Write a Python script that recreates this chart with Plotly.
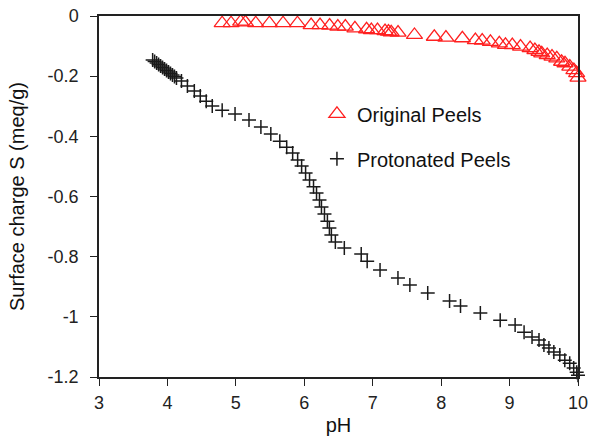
import plotly.graph_objects as go

# Original peels: pH vs surface charge (meq/g)
orig_ph = [4.80, 4.93, 5.07, 5.14, 5.29, 5.49, 5.69, 5.90, 6.10, 6.23, 6.37, 6.49,
           6.60, 6.74, 6.91, 6.98, 7.07, 7.18, 7.23, 7.27, 7.37, 7.61, 7.90, 8.07,
           8.31, 8.50, 8.60, 8.72, 8.85, 8.94, 9.04, 9.16, 9.30, 9.37, 9.43, 9.47,
           9.55, 9.62, 9.69, 9.76, 9.81, 9.88, 9.94, 9.98, 10.00]
orig_s = [-0.024, -0.024, -0.019, -0.021, -0.024, -0.024, -0.024, -0.024, -0.030,
          -0.030, -0.032, -0.035, -0.035, -0.041, -0.044, -0.047, -0.047, -0.050,
          -0.052, -0.054, -0.055, -0.063, -0.069, -0.072, -0.074, -0.080, -0.082,
          -0.086, -0.091, -0.096, -0.097, -0.102, -0.107, -0.113, -0.119, -0.124,
          -0.130, -0.135, -0.141, -0.152, -0.157, -0.168, -0.180, -0.190, -0.205]

# Protonated peels: pH vs surface charge (meq/g)
prot_ph = [3.784, 3.813, 3.842, 3.871, 3.900, 3.929, 3.958, 3.987, 4.016, 4.045,
           4.074, 4.103, 4.132, 4.205, 4.292, 4.393, 4.480, 4.567, 4.655, 4.800,
           4.988, 5.192, 5.366, 5.511, 5.642, 5.743, 5.830, 5.903, 5.961, 6.019,
           6.077, 6.135, 6.179, 6.222, 6.251, 6.295, 6.338, 6.367, 6.396, 6.454,
           6.585, 6.832, 6.919, 7.107, 7.369, 7.543, 7.804, 8.123, 8.283, 8.573,
           8.863, 9.081, 9.212, 9.328, 9.430, 9.502, 9.575, 9.647, 9.734, 9.807,
           9.879, 9.937, 9.981, 10.00]
prot_s = [-0.146, -0.151, -0.156, -0.161, -0.166, -0.171, -0.176, -0.181, -0.186,
          -0.191, -0.196, -0.201, -0.206, -0.216, -0.233, -0.249, -0.266, -0.283,
          -0.299, -0.313, -0.326, -0.346, -0.369, -0.392, -0.416, -0.436, -0.455,
          -0.479, -0.499, -0.522, -0.545, -0.568, -0.588, -0.612, -0.635, -0.658,
          -0.682, -0.705, -0.728, -0.751, -0.771, -0.791, -0.815, -0.844, -0.871,
          -0.894, -0.921, -0.947, -0.964, -0.987, -1.011, -1.027, -1.051, -1.067,
          -1.077, -1.094, -1.104, -1.117, -1.127, -1.144, -1.154, -1.170, -1.184,
          -1.194]

x_ticks = [3, 4, 5, 6, 7, 8, 9, 10]
y_ticks = [0, -0.2, -0.4, -0.6, -0.8, -1.0, -1.2]
y_tick_labels = ["0", "-0.2", "-0.4", "-0.6", "-0.8", "-1", "-1.2"]

FONT = "Arial, Liberation Sans, sans-serif"

fig = go.Figure()
fig.add_trace(go.Scatter(
    x=orig_ph, y=orig_s, mode="markers", name="Original Peels",
    legendgroup="a",
    marker=dict(symbol="triangle-up-open", size=14, color="#ff2020",
                line=dict(width=1.3, color="#ff2020")),
    cliponaxis=False,
))
fig.add_trace(go.Scatter(
    x=prot_ph, y=prot_s, mode="markers", name="Protonated Peels",
    legendgroup="b",
    marker=dict(symbol="cross-thin-open", size=10, color="#1a1a1a",
                line=dict(width=1.5, color="#1a1a1a")),
    cliponaxis=False,
))

axis_common = dict(
    showgrid=False, zeroline=False, showline=True, linecolor="#222",
    linewidth=1.5, mirror=True, ticks="outside", ticklen=7, tickwidth=1.2,
    tickcolor="#222", tickfont=dict(family=FONT, size=18, color="#222"),
    ticklabeloverflow="allow", automargin=False,
)

fig.update_layout(
    width=589, height=437,
    margin=dict(l=99, r=11, t=16, b=60),
    paper_bgcolor="white", plot_bgcolor="white",
    font=dict(family=FONT, color="#111"),
    xaxis=dict(range=[3, 10], tickvals=x_ticks, ticklabelstandoff=2,
               title=dict(text="pH", font=dict(family=FONT, size=20), standoff=6),
               **axis_common),
    yaxis=dict(range=[-1.2, 0], tickvals=y_ticks, ticktext=y_tick_labels,
               ticklabelstandoff=8,
               title=dict(text="Surface charge S (meq/g)",
                          font=dict(family=FONT, size=20), standoff=18),
               **axis_common),
    legend=dict(x=0.455, y=0.783, xanchor="left", yanchor="top",
                bgcolor="rgba(0,0,0,0)", tracegroupgap=16,
                font=dict(family=FONT, size=20, color="#111"),
                itemwidth=30),
    showlegend=True,
)

fig.write_html("out.html")
